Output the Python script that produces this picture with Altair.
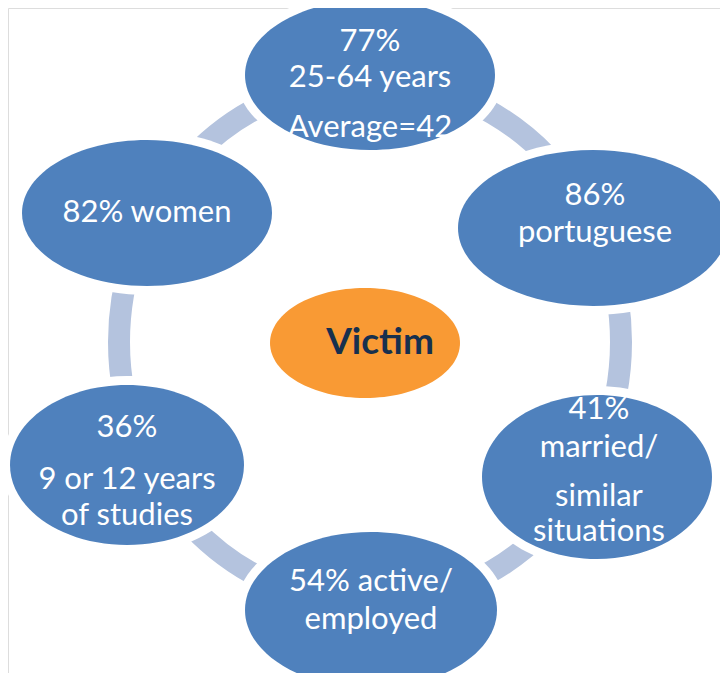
import altair as alt
import pandas as pd

# ---- content (labels) ----
node_lines = [
    ["77%", "25-64 years", "Average=42"],
    ["86%", "portuguese"],
    ["41%", "married/", "similar", "situations"],
    ["54% active/", "employed"],
    ["36%", "9 or 12 years", "of studies"],
    ["82% women"],
]
center_label = "Victim"

# ---- layout (pixel coordinates of the reference) ----
node_cx = [370, 593, 597, 371, 127, 147]
node_cy = [75, 228, 477, 610, 465, 213]
node_rx = [125, 135, 115, 126, 117, 125]
node_ry = [75, 78, 82, 78, 80, 73]
line_y = [
    [42, 78, 128],
    [196, 233],
    [410, 448, 497, 532],
    [582, 620],
    [428, 480, 516],
    [213],
]
center_xy = (365, 343, 95, 55)
ring = (370, 342, 251, 262)

BLUE = "#4F81BD"
RING = "#B4C3DE"
ORANGE = "#F99A34"
NAVY = "#17304E"


def ellipse_path(rx, ry):
    m = max(rx, ry)
    a, b = rx / m, ry / m
    path = (f"M {-a} 0 A {a} {b} 0 1 0 {a} 0 "
            f"A {a} {b} 0 1 0 {-a} 0 Z")
    return path, (2 * m) ** 2


rows = []
for i in range(len(node_lines)):
    p, s = ellipse_path(node_rx[i], node_ry[i])
    pw, sw = ellipse_path(node_rx[i] + 9, node_ry[i] + 9)
    rows.append(dict(x=node_cx[i], y=node_cy[i], path=p, size=s,
                     wpath=pw, wsize=sw))
nodes = pd.DataFrame(rows)

rp, rs = ellipse_path(ring[2], ring[3])
ring_df = pd.DataFrame([dict(x=ring[0], y=ring[1], path=rp, size=rs)])

cp, cs = ellipse_path(center_xy[2], center_xy[3])
center_df = pd.DataFrame([dict(x=center_xy[0], y=center_xy[1], path=cp,
                               size=cs, label=center_label)])

text_rows = []
for i, lines in enumerate(node_lines):
    for j, t in enumerate(lines):
        text_rows.append(dict(x=node_cx[i] + (2 if i in (1, 2) else 0),
                              y=line_y[i][j], label=t))
texts = pd.DataFrame(text_rows)

X = alt.X("x:Q", scale=alt.Scale(domain=[8, 720]), axis=None)
Y = alt.Y("y:Q", scale=alt.Scale(domain=[8, 673], reverse=True), axis=None)

ring_layer = alt.Chart(ring_df).mark_point(
    filled=False, stroke=RING, strokeWidth=22, opacity=1
).encode(x=X, y=Y, shape=alt.Shape("path:N", scale=None),
         size=alt.Size("size:Q", scale=None))

white_layer = alt.Chart(nodes).mark_point(
    filled=True, fill="white", opacity=1, strokeWidth=0
).encode(x=X, y=Y, shape=alt.Shape("wpath:N", scale=None),
         size=alt.Size("wsize:Q", scale=None))

node_layer = alt.Chart(nodes).mark_point(
    filled=True, fill=BLUE, opacity=1, strokeWidth=0
).encode(x=X, y=Y, shape=alt.Shape("path:N", scale=None),
         size=alt.Size("size:Q", scale=None))

center_layer = alt.Chart(center_df).mark_point(
    filled=True, fill=ORANGE, opacity=1, strokeWidth=0
).encode(x=X, y=Y, shape=alt.Shape("path:N", scale=None),
         size=alt.Size("size:Q", scale=None))

center_text = alt.Chart(center_df).mark_text(
    font="Lato", fontSize=37, fontWeight="bold", color=NAVY,
    align="center", baseline="middle", dx=15
).encode(x=X, y=Y, text="label:N")

text_layer = alt.Chart(texts).mark_text(
    font="Lato", fontSize=31, color="white", align="center",
    baseline="middle"
).encode(x=X, y=Y, text="label:N")

chart = alt.layer(
    ring_layer, white_layer, node_layer, center_layer, center_text, text_layer
).properties(
    width=712, height=665, padding=0, autosize=alt.AutoSizeParams(type="none")
).configure_view(strokeWidth=0, stroke="transparent").configure(background="white")

chart.save("out.html", embed_options={"renderer": "svg", "actions": False})
